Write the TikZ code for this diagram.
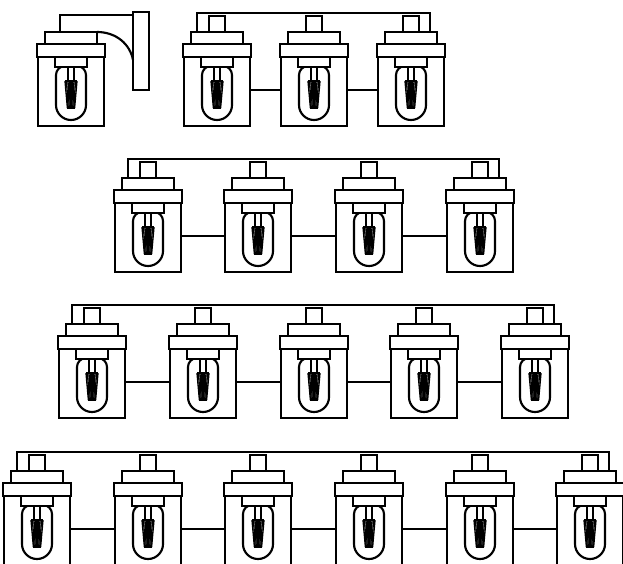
\documentclass[tikz,border=0pt]{standalone}
\tikzset{
  x=0.75pt,y=-0.75pt,
  ln/.style={draw=black,line width=1.6pt,line join=miter},
  fil/.style={draw=black,line width=1pt},
  lampbase/.pic={
    \draw[ln] (-33,57) rectangle (33,126);
    \draw[ln] (-15,75) -- (-15,105) arc[start angle=180,end angle=0,radius=15] -- (15,75) arc[start angle=0,end angle=-90,radius=9] -- (-6,66) arc[start angle=-90,end angle=-180,radius=9];
    \draw[ln,fill=white] (-34,44) rectangle (34,57);
    \draw[ln,fill=white] (-26,32) rectangle (26,44);
    \draw[ln,fill=white] (-16,57) rectangle (16,67);
    \draw[ln] (-3,67) -- (-3,81) (3,67) -- (3,81);
    \foreach \t/\b in {-6/-3.6,-4.5/-2.8,-3/-1.8,-1.5/-0.9,0/0,1.5/0.9,3/1.8,4.5/2.8,6/3.6}
      \draw[fil] (\t,81) -- (\b,108);
    \draw[fil] (-6,81) -- (6,81) (-3.6,108) -- (3.6,108);
    \coordinate (-L) at (-33,90);
    \coordinate (-R) at (33,90);
    \coordinate (-wl) at (-20,32);
    \coordinate (-wr) at (19,32);
    \coordinate (-tl) at (-20,13);
    \coordinate (-tr) at (19,13);
    \coordinate (-bl) at (-11,32);
    \coordinate (-br) at (26,32);
  },
  lampcap/.pic={
    \draw[ln,fill=white] (-8,16) rectangle (8,32);
  },
}
\begin{document}
\begin{tikzpicture}
\useasboundingbox (0,0) rectangle (623,563);
\clip (0,0) rectangle (623,563);
% row 1
\pic (w) at (71,0) {lampbase};
\draw[ln] (133,12) rectangle (149,90);
\coordinate (wbt) at (133,15);
\coordinate (wbc) at (133,60);
\draw[ln] (w-bl) -- ++(0,-17) -- (wbt);
\draw[ln] (w-br) .. controls (116,32) and (130,44) .. (wbc);
\foreach \n/\c/\r in {a/217/0,b/314/0,c/411/0,
    d/148/146,e/258/146,f/369/146,g/480/146,
    h/92/292,i/203/292,j/314/292,k/424/292,l/535/292,
    m/37/439,n/148/439,o/258/439,p/369/439,q/480/439,r/590/439}{
  \pic (\n) at (\c,\r) {lampbase};
  \pic at (\c,\r) {lampcap};
}
% connectors
\foreach \u/\v in {a/b,b/c,d/e,e/f,f/g,h/i,i/j,j/k,k/l,m/n,n/o,o/p,p/q,q/r}
  \draw[ln] (\u-R) -- (\v-L);
\foreach \u/\v in {a/c,d/g,h/l,m/r}
  \draw[ln] (\u-wl) -- (\u-tl) -- (\v-tr) -- (\v-wr);
\end{tikzpicture}
\end{document}
